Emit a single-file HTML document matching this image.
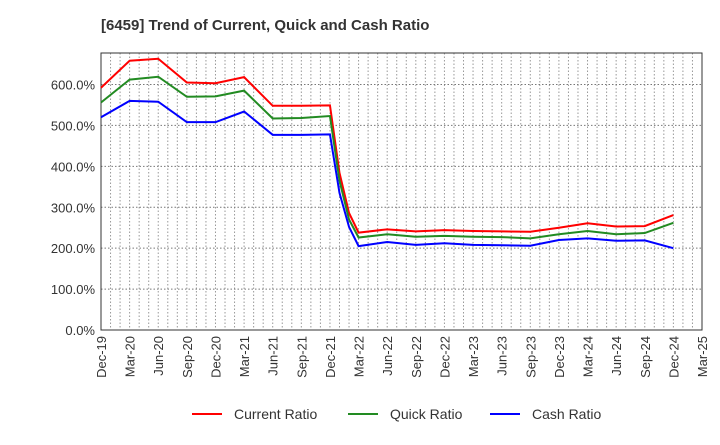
<!DOCTYPE html>
<html><head><meta charset="utf-8"><style>
body{margin:0;background:#fff;font-family:"Liberation Sans",sans-serif;}
svg text{font-family:"Liberation Sans",sans-serif;}
</style></head><body>
<svg width="720" height="440">
<text x="101" y="30" font-size="15" font-weight="bold" fill="#333">[6459]  Trend of Current, Quick and Cash Ratio</text>
<g id="grid"></g>
<g id="axes"></g>
<g id="series"></g>
<g id="legend"></g>
</svg>
<script>
const xLabels=["Dec-19","Mar-20","Jun-20","Sep-20","Dec-20","Mar-21","Jun-21","Sep-21","Dec-21","Mar-22","Jun-22","Sep-22","Dec-22","Mar-23","Jun-23","Sep-23","Dec-23","Mar-24","Jun-24","Sep-24","Dec-24","Mar-25"];
const months=[0,3,6,9,12,15,18,21,24,25,26,27,30,33,36,39,42,45,48,51,54,57,60];
const currentRatio=[592,658,663,605,603,618,548,548,549,384,286,238,246,241,244,242,241,240,250,261,253,254,281];
const quickRatio=[556,612,619,570,571,585,517,518,523,365,270,226,234,228,230,228,227,224,234,242,234,237,262];
const cashRatio=[520,560,558,508,508,534,477,477,478,335,252,205,215,208,212,208,207,206,220,224,218,219,200];
const yTicks=[0,100,200,300,400,500,600];
const L=101,R=702,T=53,B=330,yMax=677,mMax=63;
const xs=m=>L+(R-L)*m/mMax, ys=v=>B-(B-T)*v/yMax;
const NS="http://www.w3.org/2000/svg";
function mk(p,t,a){const e=document.createElementNS(NS,t);for(const k in a)e.setAttribute(k,a[k]);p.appendChild(e);return e;}
const grid=document.getElementById('grid'),axes=document.getElementById('axes'),series=document.getElementById('series'),legend=document.getElementById('legend');
for(let m=1;m<mMax;m++){const l=mk(grid,'line',{x1:xs(m),x2:xs(m),y1:T,y2:B,stroke:'#999','stroke-width':1,'stroke-dasharray':'1.5,2'});

}
yTicks.forEach(v=>{if(v>0){const l=mk(grid,'line',{x1:L,x2:R,y1:ys(v),y2:ys(v),stroke:'#777','stroke-width':1,'stroke-dasharray':'1.5,2'});

}
const t=mk(axes,'text',{x:L-6,y:ys(v)+5,'text-anchor':'end','font-size':13,fill:'#333'});t.textContent=v.toFixed(1)+'%';

});
const fr=mk(axes,'rect',{x:L,y:T,width:R-L,height:B-T,fill:'none',stroke:'#333','stroke-width':1});


xLabels.forEach((s,i)=>{const x=xs(i*3);const t=mk(axes,'text',{x:0,y:0,'text-anchor':'end','font-size':13,fill:'#333',transform:`translate(${x+5},${B+6}) rotate(-90)`});t.textContent=s;

});
[[currentRatio,'#ff0000','current-ratio-line'],[quickRatio,'#228b22','quick-ratio-line'],[cashRatio,'#0000ff','cash-ratio-line']].forEach(([d,c,n])=>{
const p=mk(series,'polyline',{points:d.map((v,i)=>xs(months[i])+','+ys(v)).join(' '),fill:'none',stroke:c,'stroke-width':2});

});
[["Current Ratio",'#ff0000',192],["Quick Ratio",'#228b22',348],["Cash Ratio",'#0000ff',490]].forEach(([s,c,x])=>{
const g=mk(legend,'g',{});


mk(g,'line',{x1:x,x2:x+30,y1:414,y2:414,stroke:c,'stroke-width':2});
const t=mk(g,'text',{x:x+42,y:419,'font-size':14,fill:'#333'});t.textContent=s;});
</script>
</body></html>
